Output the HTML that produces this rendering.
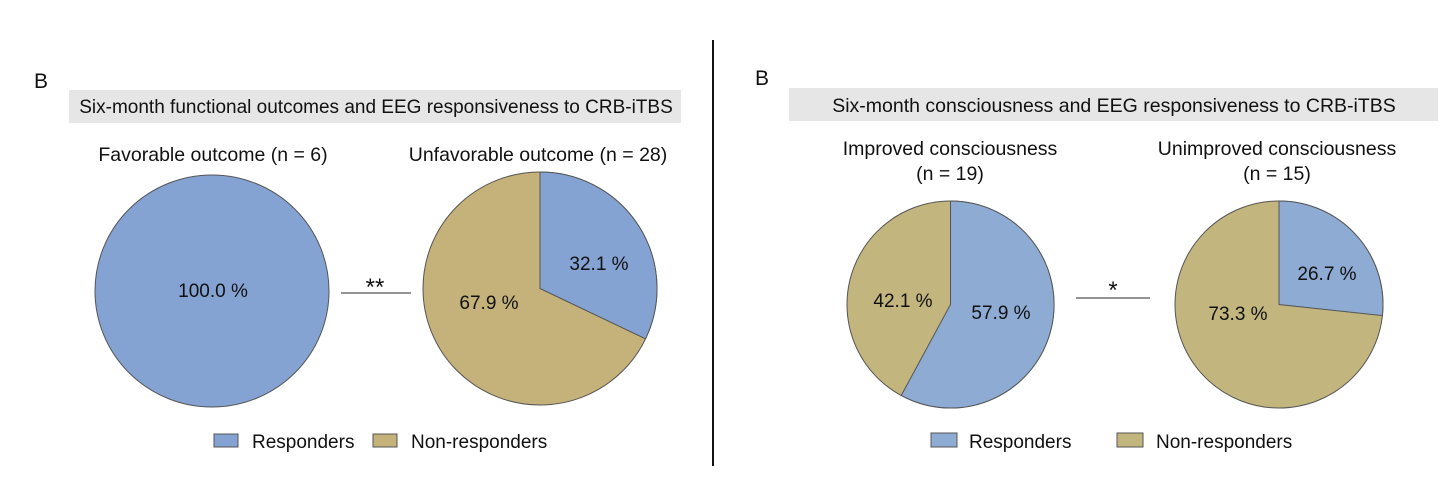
<!DOCTYPE html>
<html><head><meta charset="utf-8"><style>
html,body{margin:0;padding:0;background:#fff;}
svg{display:block;font-family:"Liberation Sans",Arial,sans-serif;}
</style></head><body>
<svg width="1452" height="489" viewBox="0 0 1452 489" xmlns="http://www.w3.org/2000/svg">
<rect width="1452" height="489" fill="#fff"/>
<line x1="713" y1="40" x2="713" y2="466" stroke="#111" stroke-width="2"/>

<!-- Left panel -->
<text x="34" y="88" font-size="21" fill="#111">B</text>
<rect x="69" y="90" width="612" height="33" fill="#e6e6e6"/>
<text x="376" y="113" font-size="19" text-anchor="middle" fill="#111">Six-month functional outcomes and EEG responsiveness to CRB-iTBS</text>
<text x="213" y="161" font-size="19.5" text-anchor="middle" fill="#111">Favorable outcome (n = 6)</text>
<text x="538" y="161" font-size="19.5" text-anchor="middle" fill="#111">Unfavorable outcome (n = 28)</text>

<ellipse cx="212" cy="291" rx="117" ry="116" fill="#84a3d3" stroke="#555" stroke-width="1"/>
<text x="213" y="297" font-size="19" text-anchor="middle" fill="#111">100.0 %</text>

<g transform="translate(540,288.5) scale(117,116.5)">
<ellipse cx="0" cy="0" rx="1" ry="1" fill="#c5b27a" stroke="#555" stroke-width="1" vector-effect="non-scaling-stroke"/>
<path d="M0,0 L0,-1 A1,1 0 0 1 0.902,0.432 Z" fill="#84a3d3" stroke="#555" stroke-width="1" vector-effect="non-scaling-stroke"/>
</g>
<text x="599" y="270" font-size="19" text-anchor="middle" fill="#111">32.1 %</text>
<text x="489" y="309" font-size="19" text-anchor="middle" fill="#111">67.9 %</text>

<line x1="341" y1="293" x2="411" y2="293" stroke="#555" stroke-width="1.2"/>
<text x="375" y="295" font-size="24" text-anchor="middle" fill="#111">**</text>

<rect x="214" y="434" width="24" height="13" fill="#84a3d3" stroke="#555" stroke-width="1"/>
<text x="252" y="448" font-size="19" fill="#111">Responders</text>
<rect x="373" y="434" width="24" height="13" fill="#c5b27a" stroke="#555" stroke-width="1"/>
<text x="411" y="448" font-size="19" fill="#111">Non-responders</text>

<!-- Right panel -->
<text x="755" y="85" font-size="21" fill="#111">B</text>
<rect x="789" y="88" width="649" height="33" fill="#e6e6e6"/>
<text x="1114" y="112" font-size="19.5" text-anchor="middle" fill="#111">Six-month consciousness and EEG responsiveness to CRB-iTBS</text>
<text x="950" y="155" font-size="19.5" text-anchor="middle" fill="#111">Improved consciousness</text>
<text x="950" y="180" font-size="19.5" text-anchor="middle" fill="#111">(n = 19)</text>
<text x="1277" y="155" font-size="19.5" text-anchor="middle" fill="#111">Unimproved consciousness</text>
<text x="1277" y="180" font-size="19.5" text-anchor="middle" fill="#111">(n = 15)</text>

<g transform="translate(950.5,304.5) scale(103.5,103.5)">
<ellipse cx="0" cy="0" rx="1" ry="1" fill="#c2b57e" stroke="#555" stroke-width="1" vector-effect="non-scaling-stroke"/>
<path d="M0,0 L0,-1 A1,1 0 1 1 -0.476,0.879 Z" fill="#8eabd3" stroke="#555" stroke-width="1" vector-effect="non-scaling-stroke"/>
</g>
<text x="903" y="307" font-size="19" text-anchor="middle" fill="#111">42.1 %</text>
<text x="1001" y="319" font-size="19" text-anchor="middle" fill="#111">57.9 %</text>

<g transform="translate(1279,304.5) scale(104,103.5)">
<ellipse cx="0" cy="0" rx="1" ry="1" fill="#c2b57e" stroke="#555" stroke-width="1" vector-effect="non-scaling-stroke"/>
<path d="M0,0 L0,-1 A1,1 0 0 1 0.994,0.107 Z" fill="#8eabd3" stroke="#555" stroke-width="1" vector-effect="non-scaling-stroke"/>
</g>
<text x="1327" y="280" font-size="19" text-anchor="middle" fill="#111">26.7 %</text>
<text x="1238" y="320" font-size="19" text-anchor="middle" fill="#111">73.3 %</text>

<line x1="1076" y1="298" x2="1150" y2="298" stroke="#555" stroke-width="1.2"/>
<text x="1113" y="298" font-size="24" text-anchor="middle" fill="#111">*</text>

<rect x="931" y="433" width="26" height="14" fill="#8eabd3" stroke="#555" stroke-width="1"/>
<text x="969" y="448" font-size="19" fill="#111">Responders</text>
<rect x="1117" y="433" width="26" height="14" fill="#c2b57e" stroke="#555" stroke-width="1"/>
<text x="1156" y="448" font-size="19" fill="#111">Non-responders</text>
</svg>
</body></html>
